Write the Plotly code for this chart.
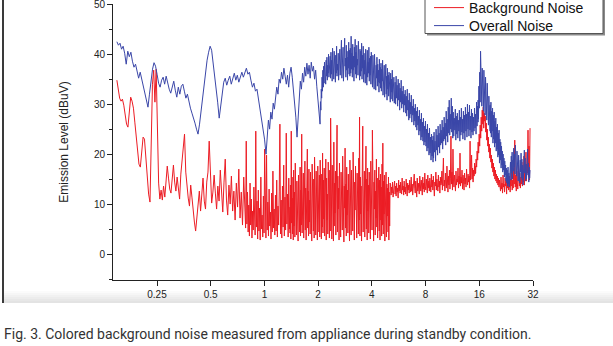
import numpy as np
import plotly.graph_objects as go

# ---------------- data ----------------
# Each run of readings is listed with the frequency band (MHz) it spans.
x_tick_values = [0.25, 0.5, 1, 2, 4, 8, 16, 32]
x_tick_labels = ["0.25", "0.5", "1", "2", "4", "8", "16", "32"]
y_tick_values = [0, 10, 20, 30, 40, 50]
y_tick_labels = ["0", "10", "20", "30", "40", "50"]

# ---- Background Noise (dBuV) ----
bg_band_a1 = [0.149, 0.2284]
bg_level_a1 = [34.8, 33.0, 31.2, 30.6, 31.0, 29.8, 28.0, 26.0, 25.4, 28.4, 31.4, 30.6, 29.2,
               26.4, 23.0, 20.0, 18.0, 17.4, 20.6, 23.4, 23.0, 19.6, 15.0, 12.0, 10.4]
bg_band_a2 = [0.2284, 0.778]
bg_level_a2 = [10.4, 19.8, 34.0, 36.8, 30.4, 37.0, 24.0, 14.2, 11.0,
               12.8, 10.8, 13.6, 11.4, 14.8, 17.6, 15.2, 13.0, 12.2, 15.6, 17.8, 14.4, 12.6, 15.4,
               13.2, 11.0, 16.0, 18.6, 22.4, 24.0,
               16.4, 12.8, 11.2, 9.6, 13.8, 11.4, 8.0, 6.4, 4.6, 7.2, 9.4, 12.6,
               8.6, 12.8, 15.2, 10.6, 9.0, 14.4, 16.4, 22.6, 14.0, 10.2, 12.4, 15.8,
               12.2, 9.0, 13.6, 10.6, 16.8, 12.0, 8.4, 14.4, 19.0, 10.8, 7.8, 13.8, 10.0, 15.6,
               8.6, 12.6, 6.8, 14.2, 9.4, 17.0, 7.2, 12.4, 5.8, 15.4, 9.2]
bg_band_b1 = [0.778, 1.392]
bg_level_b1 = [10.0, 5.2, 22.6, 6.0, 12.4, 4.4, 9.8, 3.6, 14.2, 5.8, 11.0, 3.2, 8.6, 4.8, 13.4, 6.2,
               3.8, 24.6, 5.4, 10.6, 3.0, 12.8, 4.6, 9.2, 2.8, 15.4, 5.0, 7.8, 3.4, 11.6, 4.2, 21.0,
               6.4, 3.2, 19.8, 4.8, 10.4, 3.6, 13.0, 5.6, 8.4, 3.0, 12.2, 4.4, 16.6, 5.2, 9.0, 3.8,
               11.8, 4.6, 14.8, 3.4, 9.6, 5.8, 12.6, 26.0, 4.0, 10.8, 3.2, 13.6, 5.4, 17.8, 3.6,
               11.4, 4.8, 24.2, 6.0, 12.0, 3.4, 15.2, 5.0, 9.4]
bg_band_b2 = [1.392, 5.06]
bg_level_b2 = [4.2, 13.8, 3.0, 24.6, 6.2, 15.4, 4.0, 11.2, 2.8, 16.8, 5.6, 12.4, 3.4, 18.2, 6.8,
               9.6, 3.8, 14.6, 5.0, 12.0, 2.6, 15.8, 7.2, 10.4, 4.4,
               17.4, 3.6, 12.8, 5.8, 24.0, 4.2, 14.0, 7.0, 16.2, 3.2, 11.6, 6.0, 18.6, 4.8, 13.2,
               2.8, 15.6, 7.4, 21.0, 5.2, 12.6, 3.6, 17.0, 6.4, 10.8,
               4.0, 16.4, 5.6, 13.4, 2.6, 18.0, 7.8, 12.2, 4.6, 15.0, 3.2, 19.4, 6.6, 11.4, 3.8,
               16.6, 5.2, 14.2, 2.8, 17.6, 8.0, 13.0, 4.4, 15.8, 3.4,
               18.8, 6.2, 12.8, 3.0, 16.0, 5.4, 20.2, 4.2, 14.8, 7.0, 17.2, 3.6, 13.6, 5.8, 19.0,
               2.8, 15.2, 6.8, 12.0, 4.0, 18.4, 5.0, 14.4, 3.2, 16.8,
               4.6, 27.2, 6.4, 13.8, 3.0, 17.8, 7.6, 15.0, 2.6, 22.4, 5.6, 14.2, 8.2, 16.6, 3.8,
               12.6, 6.0, 25.8, 4.4, 15.6, 9.0, 13.2, 2.8, 18.2, 7.2,
               14.6, 3.4, 16.4, 8.4, 12.4, 4.8, 19.6, 6.6, 15.8, 2.4, 13.6, 9.2, 21.2, 5.2, 14.0,
               3.6, 17.4, 7.8, 12.8, 4.2, 16.0, 8.6, 14.8, 2.6, 18.8,
               6.2, 13.4, 3.8, 16.8, 9.4, 12.2, 4.6, 20.4, 7.0, 15.2, 2.8, 14.4, 8.8, 17.6, 5.4,
               13.0, 3.2, 16.2, 10.0, 14.6, 4.0, 19.2, 6.8, 27.4, 3.6,
               15.4, 8.0, 13.6, 2.6, 18.4, 6.4, 25.6, 4.4, 14.2, 9.6, 16.6, 3.4, 12.8, 7.4, 21.6,
               5.0, 15.0, 2.8, 17.2, 8.6, 13.8, 4.2, 16.4, 6.0, 14.0,
               3.0, 18.6, 7.6, 13.2, 4.8, 24.8, 6.6, 15.6, 2.6, 14.4, 9.0, 16.8, 3.8, 12.6, 7.2,
               19.0, 5.4, 15.2, 3.2, 13.8, 8.4, 17.4, 4.6, 14.8, 2.8,
               16.0, 6.8, 13.4, 3.6, 18.0, 5.8, 22.2, 4.0, 14.6, 8.0, 15.8, 2.6, 12.8, 6.4, 16.4,
               3.4, 14.0, 7.6, 13.2, 4.4, 15.4, 2.8, 12.4, 5.6, 14.2]
bg_band_c1 = [5.06, 15.16]
bg_level_c1 = [12.6, 14.0, 11.8, 13.4, 12.2, 14.4, 11.4, 13.0, 12.8, 14.6, 12.0, 13.6, 11.6, 14.2,
               12.4, 13.2, 11.2, 14.8, 12.6, 13.8,
               12.2, 14.4, 13.0, 12.0, 15.2, 12.8, 13.6, 11.8, 14.6, 12.4, 13.4, 12.0, 15.0, 13.2,
               11.6, 14.2, 12.8, 13.8, 12.2, 14.8,
               13.0, 12.4, 15.4, 12.6, 14.0, 11.8, 13.6, 12.8, 16.0, 13.2, 12.2, 14.6, 13.0, 11.4,
               15.2, 12.6, 14.2, 13.4, 12.0, 15.6,
               13.4, 12.6, 14.8, 13.8, 11.8, 15.4, 13.0, 14.2, 12.4, 16.2, 13.6, 12.8, 15.0, 14.0,
               12.2, 15.8, 13.2, 14.6, 12.6, 15.2,
               13.8, 12.4, 16.0, 13.4, 14.8, 12.8, 15.6, 13.2, 11.6, 14.4, 13.6, 16.4, 12.8, 15.0,
               14.0, 12.6, 15.8, 13.4, 14.6, 12.2,
               15.4, 13.8, 14.2, 16.6, 12.8, 15.0, 19.2, 13.6, 14.8, 12.6, 16.2, 14.0, 13.2, 17.6,
               14.4, 12.4, 15.6, 13.8, 16.8, 13.0,
               15.2, 23.6, 14.0, 16.4, 12.8, 21.0, 14.6, 13.4, 15.8, 14.2, 12.6, 16.6, 13.8, 15.0,
               14.4, 17.2, 13.2, 15.6, 14.0, 20.2,
               13.6, 15.4, 14.2, 16.8, 13.0, 15.8, 14.6, 12.8, 16.2, 14.0, 15.2, 13.4, 17.0, 14.8,
               13.8, 16.0, 14.4, 15.6, 13.2, 22.6,
               14.8, 16.4, 19.8, 15.0, 17.2, 14.4, 16.8, 15.6, 18.2, 16.0]
bg_band_c2 = [15.16, 20.9]
bg_level_c2 = [17.6, 16.2, 19.0, 17.4, 20.6, 18.8, 22.4, 20.2, 24.0, 21.6, 25.8, 23.2, 27.4, 24.6,
               28.8, 26.0, 29.4, 25.2, 28.2, 26.6, 27.6, 24.4, 26.2, 22.8, 25.0, 21.6, 23.4, 20.4,
               22.0, 19.2, 21.2, 18.4, 19.8, 17.2, 19.0, 16.4, 18.2, 15.6, 17.4, 15.0, 16.8, 14.6,
               16.0, 14.2, 15.6, 13.8, 15.2, 13.4, 14.8, 13.2]
bg_band_c3 = [20.9, 30.8]
bg_level_c3 = [14.6, 12.6, 15.4, 13.0, 14.2, 12.2, 15.8, 13.4, 14.0, 12.4, 15.2, 13.6, 14.6, 12.0,
               16.0, 13.2, 14.4, 12.8, 15.6, 13.8,
               12.4, 15.0, 13.6, 16.4, 12.8, 14.8, 13.2, 17.2, 14.0, 22.8, 13.4, 15.8, 12.6, 16.6,
               14.2, 13.0, 17.8, 14.6, 13.6, 16.2,
               13.2, 15.4, 14.0, 18.4, 13.6, 16.8, 14.4, 19.6, 13.8, 17.0, 15.2, 20.4, 14.6, 18.0,
               16.2, 24.8, 15.4, 21.6, 14.8, 25.2]

# ---- Overall Noise (dBuV) ----
ov_band_a1 = [0.149, 0.2225]
ov_level_a1 = [42.5, 41.8, 42.2, 41.0, 41.6, 40.2, 38.0, 40.6, 39.5, 40.4, 38.6, 37.4, 38.0, 36.4,
               35.2, 36.4, 35.0, 33.6, 32.0, 30.6, 29.4]
ov_band_a2 = [0.2225, 0.4245]
ov_level_a2 = [29.4, 32.0, 34.8, 37.0, 38.3, 37.6, 36.0, 34.2, 33.4, 34.8, 35.4, 34.0, 35.6, 34.2,
               33.0, 32.2, 33.8, 34.6, 32.8, 31.4, 33.4, 32.0, 33.6, 34.0, 32.6, 31.2, 32.0, 30.4,
               29.2, 28.2, 27.4, 26.2, 25.0, 24.0]
ov_band_a3 = [0.4245, 1.021]
ov_level_a3 = [24.0, 26.0, 28.6, 31.4, 34.0, 36.6, 38.8, 40.4, 41.6, 40.8, 38.4, 35.6, 33.0, 30.4,
               27.2, 29.8, 32.6, 34.4, 35.2, 33.8, 34.8, 35.6, 34.0, 35.4, 36.2, 34.8, 35.8, 34.4,
               35.6, 36.4, 35.4, 36.6, 37.2, 36.0, 36.4, 34.8, 33.4, 34.2, 32.6, 33.0, 31.0, 29.4,
               28.0, 26.0, 23.0, 20.0]
ov_band_b1 = [1.021, 1.523]
ov_level_b1 = [20.0, 23.5, 26.8, 25.0, 28.4, 27.0, 30.2, 29.0, 31.6, 33.4, 32.0, 35.0, 34.2, 36.4,
               35.0, 37.2, 35.6, 34.0, 35.8, 33.4, 36.2, 37.4, 35.4, 33.0, 30.6, 27.4, 23.4]
ov_band_b2 = [1.523, 2.05]
ov_level_b2 = [23.4, 28.0, 31.4, 34.6, 33.0, 36.2, 34.4, 37.4, 35.6, 38.2, 36.0, 37.8, 35.2, 38.4,
               36.6, 37.6, 35.0, 36.8, 33.6, 31.0, 28.2, 26.0]
ov_band_b3 = [2.05, 5.40]
ov_level_b3 = [26.0, 30.5, 28.8, 33.0, 31.2, 35.4, 32.6, 36.8, 33.4, 37.6, 34.2, 38.4, 35.0, 37.2,
               34.0, 38.8, 35.6, 39.4, 34.8, 37.8, 36.2, 40.0, 35.4, 38.6, 36.0,
               39.6, 35.2, 40.4, 36.0, 38.8, 34.6, 41.2, 36.4, 39.2, 35.0, 40.6, 37.0, 38.4, 34.4,
               39.8, 36.2, 41.6, 35.6, 38.0, 36.8, 40.2, 34.8, 39.0, 37.4, 41.0,
               35.8, 40.4, 36.6, 42.8, 35.2, 39.6, 37.0, 41.4, 34.6, 40.0, 36.4, 43.2, 37.6, 39.2,
               35.4, 41.8, 36.8, 40.6, 34.8, 39.4, 37.2, 42.4, 36.0, 40.8, 35.6,
               41.2, 36.2, 43.6, 37.0, 40.2, 35.4, 42.0, 36.8, 39.6, 34.6, 41.4, 37.4, 43.0, 36.0,
               40.4, 35.2, 41.8, 37.8, 39.0, 35.8, 42.6, 36.4, 40.0, 34.8, 41.0,
               35.6, 40.6, 36.6, 42.2, 35.0, 39.8, 37.2, 41.6, 34.4, 40.2, 36.0, 38.8, 34.2, 41.0,
               36.8, 39.4, 33.8, 40.8, 35.4, 38.4, 36.2, 41.4, 34.6, 39.2, 35.8,
               39.6, 34.0, 40.4, 35.6, 38.2, 33.4, 39.8, 36.0, 37.6, 33.0, 40.0, 34.8, 38.6, 32.8,
               37.8, 35.2, 39.4, 33.6, 38.0, 34.4, 36.8, 32.4, 39.0, 34.2, 37.4,
               33.2, 38.2, 32.6, 37.0, 34.6, 38.8, 31.8, 36.6, 33.4, 37.8, 31.4, 36.0, 33.8, 38.0,
               32.0, 35.6, 30.8, 37.2, 33.0, 35.8, 31.6, 36.4, 32.2, 34.8, 30.4,
               36.2, 31.0, 35.0, 32.4, 36.8, 30.6, 34.6, 31.8, 35.4, 30.2, 33.8, 32.0]
ov_band_c1 = [5.40, 8.81]
ov_level_c1 = [34.4, 30.0, 35.6, 31.2, 33.8, 29.6, 35.0, 30.8, 34.2, 28.8, 33.2, 30.4, 34.8, 29.2,
               32.6, 30.0, 33.6, 28.4, 32.0, 29.8,
               32.8, 28.2, 31.6, 27.6, 33.0, 28.8, 30.8, 26.8, 32.2, 27.2, 30.4, 28.0, 31.8, 26.4,
               29.6, 27.8, 31.0, 25.8, 29.2, 26.6,
               30.0, 25.4, 28.6, 24.8, 29.4, 25.8, 27.6, 23.8, 28.8, 24.6, 27.0, 22.8, 28.2, 23.4,
               26.4, 22.6, 27.2, 21.8, 25.6, 22.4,
               26.6, 21.6, 25.0, 20.6, 26.0, 21.2, 24.2, 19.8, 25.2, 20.2, 23.4, 18.8, 24.0, 19.6,
               22.8, 18.4]
ov_band_c2 = [8.81, 15.75]
ov_level_c2 = [23.6, 19.2, 24.4, 20.4, 22.6, 18.6, 25.0, 20.8, 23.8, 19.8, 25.6, 21.4, 24.2, 20.2,
               26.0, 21.8, 24.8, 22.2, 26.8, 21.0,
               25.4, 22.6, 27.4, 23.0, 26.2, 21.8, 28.6, 23.6, 27.0, 22.4, 29.4, 24.2, 30.8, 23.8,
               28.0, 25.0, 31.2, 24.4, 29.6, 23.2,
               28.4, 23.6, 27.2, 24.8, 29.0, 22.8, 27.6, 24.0, 28.2, 23.2, 26.8, 24.6, 28.8, 22.6,
               27.4, 23.8, 29.2, 24.4, 27.0, 23.0,
               28.6, 24.2, 27.8, 22.8, 29.4, 24.6, 28.0, 23.4, 30.0, 25.0, 28.4, 23.6, 29.8, 24.8,
               27.6, 23.2, 29.0, 24.4, 28.2, 23.8,
               27.4, 24.6, 29.2, 25.2, 28.0, 24.0, 30.4, 25.6, 29.6, 26.4]
ov_band_c3 = [15.75, 18.40]
ov_level_c3 = [30.8, 27.0, 33.6, 29.2, 36.4, 30.4, 40.6, 32.8, 38.6, 29.6, 37.2, 31.4, 35.8, 28.6,
               36.8, 30.2, 34.6, 27.8, 35.4, 29.0, 33.6, 26.8, 34.2, 28.2, 32.4, 25.8, 31.6, 26.6,
               30.6, 24.6]
ov_band_c4 = [18.40, 23.8]
ov_level_c4 = [29.8, 24.2, 30.4, 23.4, 28.6, 24.6, 29.2, 22.2, 27.8, 23.0, 28.4, 21.4, 26.6, 22.2,
               27.2, 20.6, 25.4, 21.0, 26.0, 19.4, 24.2, 19.8, 24.8, 18.2, 23.0, 18.8, 22.4, 17.2,
               21.6, 17.8, 20.6, 16.4, 20.0, 16.8, 19.2, 15.4, 18.6, 15.8, 17.8, 14.6, 17.2, 14.2,
               16.8, 13.6, 17.4, 14.0, 16.2, 13.4, 17.0, 14.4]
ov_band_c5 = [23.8, 30.8]
ov_level_c5 = [15.6, 18.4, 14.8, 19.6, 16.2, 20.4, 15.0, 18.8, 16.6, 21.2, 17.4, 20.0, 16.0, 21.8,
               17.8, 19.4, 15.6, 20.6, 16.8, 18.6, 14.6, 19.8, 15.8, 17.6, 14.2, 18.8, 16.4, 20.2,
               15.2, 19.0, 14.8, 17.8, 13.8, 18.4, 15.4, 20.8, 16.2, 19.2, 14.6, 18.0, 15.0, 19.6,
               16.6, 21.0, 15.8, 18.2, 14.4, 17.4, 15.2, 16.8]

caption_text = "Fig. 3. Colored background noise measured from appliance during standby condition."
series_names = ["Background Noise", "Overall Noise"]
series_colors = ["#ec1c24", "#3a46a8"]


def sweep(runs):
    """Place each run of readings across its band on the analyser's log sweep."""
    xs, ys = [], []
    for band, levels in runs:
        xs.append(np.geomspace(band[0], band[1], len(levels)))
        ys.append(np.asarray(levels, dtype=float))
    return np.concatenate(xs), np.concatenate(ys)


bg_x, bg_y = sweep([(bg_band_a1, bg_level_a1), (bg_band_a2, bg_level_a2),
                    (bg_band_b1, bg_level_b1), (bg_band_b2, bg_level_b2),
                    (bg_band_c1, bg_level_c1), (bg_band_c2, bg_level_c2),
                    (bg_band_c3, bg_level_c3)])
ov_x, ov_y = sweep([(ov_band_a1, ov_level_a1), (ov_band_a2, ov_level_a2),
                    (ov_band_a3, ov_level_a3), (ov_band_b1, ov_level_b1),
                    (ov_band_b2, ov_level_b2), (ov_band_b3, ov_level_b3),
                    (ov_band_c1, ov_level_c1), (ov_band_c2, ov_level_c2),
                    (ov_band_c3, ov_level_c3), (ov_band_c4, ov_level_c4),
                    (ov_band_c5, ov_level_c5)])

# ---------------- figure ----------------
W, H = 613, 346
fig = go.Figure()
fig.add_trace(go.Scatter(x=bg_x, y=bg_y, mode="lines", name=series_names[0], legend="legend",
                         line=dict(color=series_colors[0], width=1)))
fig.add_trace(go.Scatter(x=ov_x, y=ov_y, mode="lines", name=series_names[1], legend="legend2",
                         line=dict(color=series_colors[1], width=1)))

axis_font = dict(family="Liberation Sans, Arial, sans-serif", size=10, color="#222222")
legend_font = dict(family="Liberation Sans, Arial, sans-serif", size=14, color="#111111")


def legend_at(py):
    return dict(xref="container", yref="container", x=429 / W, xanchor="left",
                y=1 - py / H, yanchor="middle", bgcolor="rgba(0,0,0,0)", borderwidth=0,
                font=legend_font)


fig.update_layout(
    width=W, height=H,
    margin=dict(l=0, r=0, t=0, b=0, autoexpand=False),
    paper_bgcolor="white", plot_bgcolor="white",
    showlegend=True,
    legend=legend_at(8),
    legend2=legend_at(26),
    xaxis=dict(type="log", range=[np.log10(0.1417), np.log10(32)],
               domain=[113 / W, 533 / W], automargin=False,
               tickvals=x_tick_values, ticktext=x_tick_labels,
               ticks="outside", ticklen=5, tickwidth=1, tickcolor="#222222",
               showline=True, linecolor="#222222", linewidth=1,
               showgrid=False, zeroline=False, tickfont=axis_font),
    yaxis=dict(range=[-5.2, 50.05], domain=[1 - 280 / H, 1 - 4 / H], automargin=False,
               tickvals=y_tick_values, ticktext=y_tick_labels, ticklabeloverflow="allow",
               ticks="outside", ticklen=5, tickwidth=1, tickcolor="#222222",
               minor=dict(ticks="outside", ticklen=3, dtick=5, tick0=5, tickcolor="#222222"),
               showline=True, linecolor="#222222", linewidth=1,
               showgrid=False, zeroline=False, tickfont=axis_font,
               title=dict(text="Emission Level (dBuV)", standoff=22,
                          font=dict(family="Liberation Sans, Arial, sans-serif", size=12,
                                    color="#222222"))),
)

# page decoration: left frame line and soft gray band at the bottom of the figure image
shapes = [dict(type="line", xref="paper", yref="paper", x0=3 / W, x1=3 / W,
               y0=1 - 303 / H, y1=1, line=dict(color="#3a3a3a", width=2))]
band_grays = ["#fbfbfb", "#f6f6f6", "#f1f1f1", "#ececec", "#e7e7e7", "#e3e3e3"]
for i, g in enumerate(band_grays):
    top = 291 + 2 * i
    shapes.append(dict(type="rect", xref="paper", yref="paper", x0=4 / W, x1=1,
                       y0=1 - (top + 2) / H, y1=1 - top / H,
                       fillcolor=g, line=dict(width=0), layer="below"))
# legend frame with drop shadow
shapes.append(dict(type="rect", xref="paper", yref="paper", x0=427 / W, x1=605 / W,
                   y0=1 - 35.5 / H, y1=1.05, fillcolor="#8a8a8a", line=dict(width=0)))
shapes.append(dict(type="rect", xref="paper", yref="paper", x0=425 / W, x1=603 / W,
                   y0=1 - 33.5 / H, y1=1.05, fillcolor="white",
                   line=dict(color="#555555", width=1)))
fig.update_layout(shapes=shapes)

fig.add_annotation(text=caption_text, xref="paper", yref="paper", x=2 / W, xanchor="left",
                   y=1 - 334 / H, yanchor="middle", showarrow=False,
                   font=dict(family="Roboto, sans-serif", size=14, color="#333333"))

fig.write_html("out.html")
